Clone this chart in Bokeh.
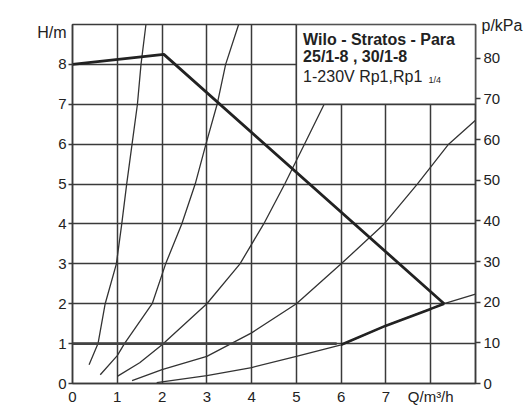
from bokeh.plotting import figure
from bokeh.models import Range1d, LinearAxis, FixedTicker, Label, BoxAnnotation
from bokeh.embed import file_html
from bokeh.resources import INLINE

# ---- data ----
x_ticks = [0, 1, 2, 3, 4, 5, 6, 7, 8]
x_labels = {8: "Q/m³/h"}
y_ticks = [0, 1, 2, 3, 4, 5, 6, 7, 8]
kpa_ticks = [0, 10, 20, 30, 40, 50, 60, 70, 80]
KPA_PER_M = 9.81

# system curves (Q m3/h, H m)
c1_q = [0.37, 0.57, 0.73, 0.98, 1.10, 1.21, 1.33, 1.45, 1.53, 1.64]
c1_h = [0.47, 1.0, 2.0, 3.0, 4.0, 5.0, 6.0, 7.0, 8.0, 9.0]
c2_q = [0.62, 1.0, 1.16, 1.78, 2.08, 2.44, 2.74, 2.98, 3.23, 3.42, 3.71]
c2_h = [0.22, 0.7, 1.0, 2.0, 3.0, 4.0, 5.0, 6.0, 7.0, 8.0, 9.0]
c3_q = [1.0, 1.5, 2.0, 3.0, 3.74, 4.27, 4.74, 5.18, 5.62]
c3_h = [0.18, 0.52, 0.97, 2.0, 3.0, 4.0, 5.0, 6.0, 7.0]
c4_q = [1.33, 2.0, 3.0, 4.0, 5.0, 6.0, 6.96, 7.7, 8.4, 9.0]
c4_h = [0.07, 0.35, 0.68, 1.27, 2.0, 3.0, 4.0, 5.0, 6.0, 6.6]
c5_q = [1.88, 3.0, 4.0, 5.0, 6.0, 7.0, 8.0, 8.3, 9.0]
c5_h = [0.02, 0.2, 0.4, 0.68, 0.97, 1.45, 1.87, 2.0, 2.24]

# operating envelope
max_q = [0.0, 2.04, 8.3]
max_h = [8.0, 8.25, 2.0]
lim_q = [6.0, 7.0, 8.0, 8.3]
lim_h = [0.97, 1.45, 1.87, 2.0]
min_q = [0.0, 5.9]
min_h = [1.0, 1.0]

title1 = "Wilo - Stratos - Para"
title2 = "25/1-8 , 30/1-8"
title3 = "1-230V Rp1,Rp1"
title3_small = "1/4"
y_name = "H/m"
p_name = "p/kPa"

FONT = "Liberation Sans"
INK = "#222222"
GRID = "#3a3a3a"

p = figure(width=528, height=407, x_range=Range1d(0, 9), y_range=Range1d(0, 9),
           output_backend="svg", toolbar_location=None,
           min_border_left=72, min_border_right=53, min_border_top=24, min_border_bottom=24)
p.background_fill_color = "white"
p.border_fill_color = "white"
p.outline_line_color = GRID
p.outline_line_width = 1.5

# grids
p.xgrid.ticker = FixedTicker(ticks=x_ticks[1:])
p.ygrid.ticker = FixedTicker(ticks=y_ticks[1:])
for g in (p.xgrid, p.ygrid):
    g.grid_line_color = GRID
    g.grid_line_width = 1.5

# axes
xa = p.xaxis[0]
xa.ticker = FixedTicker(ticks=x_ticks)
xa.major_label_overrides = x_labels
xa.major_tick_out = 0
xa.major_tick_in = 0
xa.minor_tick_out = 0
xa.axis_line_color = GRID
xa.major_label_standoff = 4

ya = p.yaxis[0]
ya.ticker = FixedTicker(ticks=y_ticks)
ya.major_tick_out = 4
ya.major_tick_in = 0
ya.minor_tick_out = 0
ya.axis_line_color = GRID
ya.major_tick_line_color = GRID
ya.major_tick_line_width = 1.5
ya.major_label_standoff = 2

p.extra_y_ranges = {"kpa": Range1d(0, 9 * KPA_PER_M)}
ra = LinearAxis(y_range_name="kpa", ticker=FixedTicker(ticks=kpa_ticks))
ra.major_tick_out = 5
ra.major_tick_in = 0
ra.minor_tick_out = 0
ra.axis_line_color = GRID
ra.major_tick_line_color = GRID
ra.major_tick_line_width = 1.5
ra.major_label_standoff = 3
p.add_layout(ra, "right")

for ax in (xa, ya, ra):
    ax.major_label_text_font = FONT
    ax.major_label_text_font_size = "15px"
    ax.major_label_text_color = INK
    ax.axis_line_width = 1.5

# curves
for q, h in ((c1_q, c1_h), (c2_q, c2_h), (c3_q, c3_h), (c4_q, c4_h), (c5_q, c5_h)):
    p.line(q, h, line_color="#333333", line_width=1.3)

p.line(min_q, min_h, line_color="#444444", line_width=2.6)
p.line(lim_q, lim_h, line_color=INK, line_width=2.6)
p.line(max_q, max_h, line_color=INK, line_width=2.8)

# title box
box = BoxAnnotation(left=5, right=9, bottom=7, top=9, fill_color="white", fill_alpha=1.0,
                    line_color=GRID, line_width=1.5, line_alpha=1.0)
p.add_layout(box)

p.add_layout(Label(x=5.15, y=8.625, text=title1, text_font=FONT, text_font_style="bold",
                   text_font_size="16px", text_baseline="middle", text_color=INK))
p.add_layout(Label(x=5.15, y=8.19, text=title2, text_font=FONT, text_font_style="bold",
                   text_font_size="16px", text_baseline="middle", text_color=INK))
p.add_layout(Label(x=5.15, y=7.69, text=title3, text_font=FONT,
                   text_font_size="16px", text_baseline="middle", text_color=INK))
p.add_layout(Label(x=7.95, y=7.62, text=title3_small, text_font=FONT,
                   text_font_size="9px", text_baseline="middle", text_color=INK))

# axis names, placed in side panels (canvas units)
p.add_layout(Label(x=66, y=32, x_units="canvas", y_units="canvas", text=y_name,
                   text_font=FONT, text_font_size="16px",
                   text_align="right", text_baseline="middle", text_color=INK), "left")
p.add_layout(Label(x=481, y=25, x_units="canvas", y_units="canvas", text=p_name,
                   text_font=FONT, text_font_size="16px",
                   text_align="left", text_baseline="alphabetic", text_color=INK), "above")

open("out.html", "w").write(file_html(p, INLINE))
